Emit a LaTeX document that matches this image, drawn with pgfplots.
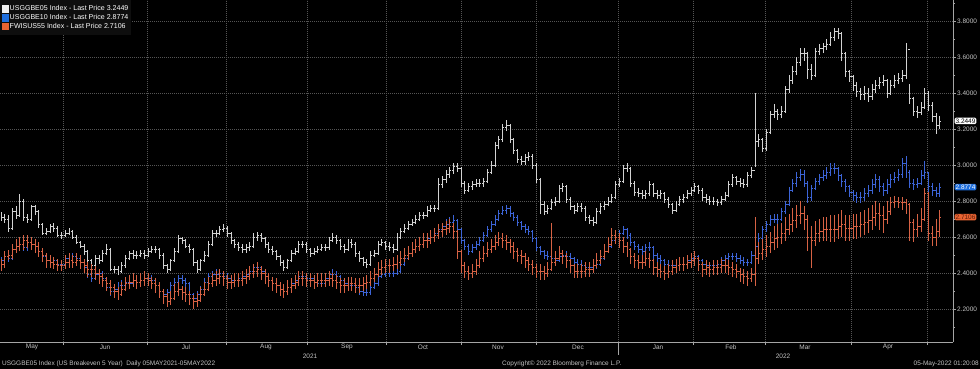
\documentclass[border=0pt]{standalone}
\usepackage{pgfplots}
\usepackage{pgfplotstable}
\pgfplotsset{compat=1.18}
\usepackage{fontspec}
\setmainfont{Liberation Sans}
\definecolor{wcol}{RGB}{210,210,210}
\definecolor{bcol}{RGB}{60,100,215}
\definecolor{ocol}{RGB}{215,98,68}
\definecolor{wsq}{RGB}{240,240,240}
\definecolor{bsq}{RGB}{30,110,220}
\definecolor{osq}{RGB}{232,100,50}
\definecolor{gridgray}{RGB}{85,85,85}
\definecolor{axisgray}{RGB}{165,165,165}
\definecolor{labgray}{RGB}{195,195,195}
\definecolor{legbg}{RGB}{14,14,14}
\pgfdeclareplotmark{rtick}{\pgfpathmoveto{\pgfpointorigin}\pgfpathlineto{\pgfpoint{1.6bp}{0pt}}\pgfusepathqstroke}
\pgfdeclareplotmark{ltick}{\pgfpathmoveto{\pgfpointorigin}\pgfpathlineto{\pgfpoint{-1.6bp}{0pt}}\pgfusepathqstroke}
\newcommand{\smfont}{\fontsize{6.5}{7.2}\selectfont}
\newcommand{\legfont}{\fontsize{7.1}{7.6}\selectfont}
\pgfplotstableread{
i wc wh wl bc bh bl oc oh ol
0 2.71 2.74 2.69 2.47 2.49 2.44 2.45 2.48 2.41
1 2.70 2.73 2.68 2.49 2.51 2.46 2.49 2.52 2.43
2 2.65 2.72 2.63 2.48 2.51 2.46 2.50 2.53 2.47
3 2.74 2.76 2.64 2.53 2.55 2.47 2.53 2.56 2.48
4 2.72 2.77 2.70 2.55 2.57 2.51 2.55 2.59 2.51
5 2.80 2.84 2.71 2.56 2.59 2.53 2.56 2.60 2.52
6 2.71 2.81 2.69 2.54 2.58 2.52 2.58 2.61 2.53
7 2.70 2.73 2.68 2.57 2.59 2.52 2.57 2.61 2.54
8 2.77 2.78 2.69 2.56 2.59 2.54 2.56 2.60 2.53
9 2.74 2.78 2.72 2.55 2.58 2.53 2.55 2.59 2.51
10 2.67 2.75 2.65 2.52 2.56 2.50 2.52 2.57 2.49
11 2.62 2.68 2.61 2.49 2.53 2.47 2.50 2.54 2.46
12 2.63 2.65 2.61 2.47 2.50 2.45 2.47 2.51 2.43
13 2.66 2.67 2.62 2.46 2.49 2.44 2.46 2.50 2.43
14 2.65 2.68 2.63 2.47 2.49 2.44 2.45 2.49 2.42
15 2.61 2.66 2.60 2.45 2.48 2.43 2.44 2.48 2.41
16 2.61 2.63 2.59 2.45 2.47 2.43 2.44 2.47 2.41
17 2.62 2.64 2.60 2.48 2.50 2.44 2.46 2.50 2.42
18 2.63 2.65 2.61 2.47 2.50 2.45 2.47 2.51 2.43
19 2.60 2.64 2.59 2.49 2.51 2.46 2.46 2.50 2.43
20 2.57 2.61 2.56 2.48 2.51 2.46 2.47 2.51 2.44
21 2.55 2.58 2.54 2.46 2.49 2.44 2.46 2.50 2.42
22 2.52 2.56 2.50 2.43 2.47 2.41 2.44 2.48 2.40
23 2.47 2.53 2.45 2.39 2.44 2.37 2.42 2.46 2.38
24 2.44 2.48 2.42 2.37 2.40 2.35 2.42 2.45 2.38
25 2.48 2.50 2.43 2.39 2.41 2.36 2.40 2.44 2.36
26 2.47 2.50 2.45 2.40 2.42 2.38 2.38 2.42 2.34
27 2.51 2.53 2.46 2.37 2.41 2.35 2.36 2.40 2.32
28 2.53 2.56 2.50 2.32 2.38 2.30 2.34 2.38 2.30
29 2.42 2.54 2.41 2.30 2.33 2.27 2.32 2.36 2.28
30 2.42 2.44 2.40 2.31 2.33 2.28 2.30 2.34 2.26
31 2.41 2.44 2.39 2.33 2.35 2.30 2.28 2.32 2.25
32 2.44 2.46 2.40 2.33 2.36 2.31 2.31 2.35 2.27
33 2.48 2.50 2.43 2.35 2.37 2.32 2.34 2.38 2.30
34 2.51 2.52 2.47 2.34 2.37 2.32 2.35 2.39 2.31
35 2.50 2.53 2.48 2.36 2.38 2.33 2.36 2.40 2.32
36 2.50 2.52 2.48 2.35 2.38 2.33 2.35 2.39 2.31
37 2.51 2.53 2.49 2.36 2.38 2.33 2.36 2.40 2.32
38 2.50 2.53 2.48 2.37 2.39 2.34 2.37 2.41 2.33
39 2.52 2.54 2.49 2.37 2.40 2.35 2.36 2.40 2.33
40 2.53 2.55 2.51 2.36 2.39 2.34 2.34 2.38 2.31
41 2.53 2.55 2.51 2.33 2.37 2.31 2.33 2.37 2.29
42 2.50 2.54 2.48 2.30 2.34 2.28 2.30 2.35 2.26
43 2.44 2.51 2.42 2.28 2.31 2.26 2.27 2.31 2.23
44 2.42 2.45 2.40 2.29 2.31 2.26 2.24 2.29 2.21
45 2.47 2.48 2.41 2.33 2.35 2.28 2.26 2.30 2.22
46 2.52 2.54 2.46 2.35 2.37 2.32 2.30 2.34 2.25
47 2.59 2.61 2.51 2.37 2.39 2.34 2.31 2.35 2.27
48 2.58 2.60 2.56 2.36 2.39 2.34 2.29 2.33 2.25
49 2.55 2.59 2.54 2.34 2.37 2.32 2.28 2.32 2.24
50 2.53 2.56 2.51 2.28 2.35 2.26 2.26 2.30 2.22
51 2.46 2.54 2.44 2.26 2.29 2.24 2.24 2.28 2.20
52 2.42 2.47 2.40 2.28 2.30 2.25 2.25 2.29 2.21
53 2.47 2.48 2.41 2.31 2.33 2.27 2.28 2.32 2.24
54 2.50 2.52 2.46 2.35 2.37 2.30 2.31 2.35 2.27
55 2.56 2.58 2.49 2.38 2.40 2.34 2.34 2.38 2.30
56 2.62 2.64 2.55 2.39 2.41 2.37 2.36 2.40 2.32
57 2.62 2.64 2.60 2.39 2.42 2.37 2.37 2.41 2.33
58 2.64 2.66 2.61 2.40 2.42 2.38 2.38 2.42 2.34
59 2.65 2.67 2.63 2.38 2.41 2.36 2.37 2.41 2.33
60 2.62 2.66 2.60 2.37 2.40 2.35 2.35 2.39 2.31
61 2.58 2.63 2.56 2.36 2.39 2.34 2.35 2.39 2.31
62 2.56 2.59 2.54 2.36 2.38 2.34 2.36 2.40 2.32
63 2.54 2.57 2.52 2.37 2.39 2.34 2.36 2.40 2.32
64 2.53 2.56 2.51 2.38 2.40 2.35 2.37 2.41 2.33
65 2.54 2.56 2.51 2.39 2.41 2.36 2.38 2.42 2.34
66 2.55 2.57 2.52 2.41 2.43 2.38 2.40 2.44 2.36
67 2.60 2.62 2.54 2.43 2.45 2.40 2.41 2.45 2.37
68 2.61 2.63 2.58 2.43 2.46 2.41 2.42 2.46 2.38
69 2.59 2.62 2.57 2.41 2.44 2.39 2.40 2.44 2.36
70 2.56 2.60 2.54 2.38 2.42 2.36 2.38 2.42 2.34
71 2.53 2.57 2.51 2.36 2.39 2.34 2.36 2.40 2.32
72 2.52 2.55 2.50 2.34 2.37 2.32 2.34 2.38 2.30
73 2.49 2.53 2.47 2.33 2.35 2.30 2.33 2.37 2.29
74 2.46 2.50 2.44 2.31 2.34 2.29 2.31 2.35 2.27
75 2.43 2.47 2.41 2.30 2.33 2.28 2.30 2.34 2.26
76 2.47 2.48 2.42 2.32 2.34 2.29 2.32 2.36 2.28
77 2.51 2.53 2.46 2.34 2.36 2.31 2.33 2.37 2.29
78 2.52 2.54 2.50 2.36 2.38 2.33 2.35 2.39 2.31
79 2.56 2.58 2.51 2.38 2.40 2.35 2.37 2.41 2.33
80 2.56 2.58 2.54 2.38 2.41 2.36 2.37 2.41 2.33
81 2.53 2.57 2.51 2.37 2.40 2.35 2.36 2.40 2.32
82 2.51 2.54 2.49 2.37 2.39 2.35 2.36 2.40 2.32
83 2.52 2.54 2.50 2.35 2.38 2.33 2.35 2.39 2.31
84 2.53 2.55 2.51 2.34 2.37 2.32 2.36 2.40 2.32
85 2.54 2.56 2.52 2.34 2.36 2.32 2.36 2.40 2.32
86 2.54 2.56 2.52 2.37 2.39 2.33 2.36 2.40 2.32
87 2.58 2.60 2.53 2.39 2.41 2.36 2.37 2.41 2.33
88 2.60 2.62 2.57 2.39 2.42 2.37 2.36 2.40 2.32
89 2.58 2.61 2.56 2.38 2.41 2.36 2.35 2.39 2.31
90 2.55 2.59 2.53 2.36 2.39 2.34 2.33 2.37 2.29
91 2.53 2.56 2.51 2.34 2.37 2.32 2.33 2.37 2.29
92 2.57 2.59 2.52 2.33 2.36 2.31 2.34 2.38 2.30
93 2.56 2.59 2.54 2.33 2.35 2.31 2.34 2.38 2.30
94 2.51 2.57 2.49 2.32 2.35 2.30 2.33 2.37 2.29
95 2.48 2.52 2.46 2.30 2.33 2.28 2.33 2.37 2.29
96 2.46 2.49 2.44 2.29 2.32 2.27 2.34 2.38 2.30
97 2.45 2.48 2.43 2.29 2.31 2.27 2.35 2.39 2.31
98 2.50 2.52 2.44 2.32 2.34 2.28 2.37 2.41 2.33
99 2.51 2.53 2.49 2.34 2.36 2.31 2.39 2.43 2.35
100 2.56 2.58 2.50 2.38 2.40 2.33 2.42 2.46 2.38
101 2.57 2.59 2.55 2.39 2.41 2.37 2.43 2.47 2.39
102 2.55 2.58 2.53 2.40 2.42 2.38 2.44 2.48 2.40
103 2.54 2.57 2.52 2.40 2.42 2.38 2.44 2.48 2.40
104 2.53 2.56 2.51 2.40 2.42 2.38 2.45 2.49 2.41
105 2.60 2.62 2.52 2.41 2.43 2.39 2.46 2.50 2.42
106 2.63 2.65 2.59 2.45 2.47 2.40 2.48 2.52 2.44
107 2.65 2.67 2.62 2.48 2.50 2.44 2.50 2.54 2.46
108 2.67 2.69 2.64 2.51 2.53 2.47 2.51 2.55 2.47
109 2.68 2.70 2.66 2.53 2.55 2.50 2.53 2.57 2.49
110 2.70 2.72 2.67 2.55 2.57 2.52 2.55 2.59 2.51
111 2.72 2.74 2.69 2.56 2.58 2.54 2.56 2.60 2.52
112 2.72 2.74 2.70 2.58 2.60 2.55 2.58 2.62 2.54
113 2.75 2.77 2.71 2.59 2.61 2.57 2.58 2.62 2.54
114 2.76 2.78 2.74 2.60 2.62 2.58 2.60 2.64 2.56
115 2.76 2.78 2.74 2.62 2.64 2.59 2.61 2.65 2.57
116 2.89 2.93 2.75 2.64 2.66 2.61 2.63 2.67 2.59
117 2.92 2.94 2.87 2.66 2.68 2.63 2.64 2.68 2.60
118 2.95 2.97 2.90 2.67 2.70 2.65 2.65 2.69 2.61
119 2.97 2.99 2.93 2.68 2.71 2.66 2.66 2.70 2.62
120 2.99 3.01 2.95 2.69 2.72 2.66 2.63 2.68 2.59
121 2.98 3.01 2.96 2.64 2.70 2.62 2.52 2.64 2.48
122 2.90 2.99 2.88 2.58 2.65 2.56 2.44 2.53 2.40
123 2.86 2.91 2.84 2.55 2.59 2.53 2.41 2.46 2.37
124 2.88 2.90 2.85 2.52 2.56 2.50 2.40 2.44 2.36
125 2.89 2.91 2.86 2.54 2.56 2.51 2.41 2.45 2.37
126 2.90 2.92 2.88 2.56 2.58 2.53 2.44 2.48 2.39
127 2.90 2.92 2.88 2.58 2.60 2.55 2.48 2.52 2.43
128 2.91 2.93 2.88 2.61 2.63 2.57 2.51 2.55 2.46
129 2.96 2.98 2.90 2.64 2.66 2.60 2.53 2.57 2.49
130 3.00 3.02 2.95 2.67 2.69 2.63 2.55 2.59 2.51
131 3.11 3.13 2.99 2.70 2.72 2.66 2.57 2.61 2.53
132 3.14 3.16 3.09 2.73 2.75 2.69 2.59 2.63 2.55
133 3.21 3.23 3.13 2.75 2.77 2.72 2.58 2.62 2.54
134 3.22 3.25 3.19 2.76 2.78 2.73 2.57 2.61 2.53
135 3.14 3.23 3.12 2.73 2.77 2.71 2.55 2.59 2.51
136 3.08 3.15 3.06 2.71 2.74 2.69 2.52 2.57 2.48
137 3.03 3.09 3.01 2.68 2.72 2.66 2.50 2.54 2.46
138 3.02 3.05 3.00 2.66 2.69 2.64 2.49 2.53 2.45
139 3.04 3.06 3.00 2.64 2.67 2.62 2.47 2.51 2.43
140 3.05 3.07 3.02 2.63 2.66 2.61 2.45 2.49 2.41
141 3.00 3.06 2.98 2.59 2.64 2.57 2.43 2.47 2.39
142 2.92 3.01 2.90 2.54 2.60 2.52 2.41 2.45 2.37
143 2.78 2.93 2.73 2.52 2.55 2.50 2.41 2.45 2.36
144 2.74 2.80 2.72 2.50 2.53 2.48 2.40 2.44 2.36
145 2.76 2.78 2.73 2.49 2.52 2.47 2.42 2.46 2.38
146 2.79 2.81 2.75 2.48 2.51 2.46 2.46 2.68 2.41
147 2.80 2.82 2.77 2.47 2.50 2.45 2.48 2.52 2.44
148 2.87 2.89 2.79 2.49 2.51 2.46 2.51 2.55 2.47
149 2.88 2.90 2.85 2.50 2.52 2.47 2.49 2.53 2.45
150 2.81 2.89 2.79 2.49 2.52 2.47 2.47 2.51 2.43
151 2.77 2.82 2.75 2.48 2.51 2.46 2.44 2.48 2.40
152 2.75 2.78 2.73 2.46 2.49 2.44 2.41 2.45 2.37
153 2.77 2.79 2.74 2.45 2.48 2.43 2.41 2.45 2.37
154 2.76 2.79 2.74 2.44 2.47 2.42 2.41 2.45 2.37
155 2.71 2.77 2.69 2.43 2.46 2.41 2.42 2.46 2.38
156 2.69 2.72 2.67 2.43 2.45 2.41 2.42 2.46 2.38
157 2.68 2.71 2.66 2.44 2.46 2.41 2.44 2.48 2.40
158 2.74 2.76 2.67 2.45 2.47 2.42 2.47 2.51 2.43
159 2.77 2.79 2.73 2.48 2.50 2.44 2.49 2.53 2.45
160 2.78 2.80 2.75 2.52 2.54 2.47 2.52 2.56 2.48
161 2.80 2.82 2.77 2.55 2.57 2.51 2.56 2.60 2.51
162 2.82 2.84 2.79 2.58 2.60 2.54 2.61 2.65 2.55
163 2.89 2.91 2.81 2.60 2.62 2.57 2.60 2.64 2.56
164 2.91 2.93 2.88 2.62 2.64 2.59 2.58 2.62 2.54
165 2.98 3.00 2.90 2.64 2.66 2.61 2.55 2.60 2.51
166 2.98 3.01 2.96 2.61 2.65 2.59 2.53 2.57 2.49
167 2.90 2.99 2.88 2.57 2.62 2.55 2.49 2.54 2.45
168 2.85 2.91 2.83 2.55 2.58 2.53 2.47 2.51 2.43
169 2.84 2.87 2.82 2.53 2.56 2.51 2.46 2.50 2.42
170 2.83 2.86 2.81 2.52 2.55 2.50 2.46 2.50 2.42
171 2.84 2.86 2.81 2.54 2.56 2.51 2.48 2.52 2.44
172 2.89 2.91 2.83 2.54 2.57 2.52 2.47 2.51 2.43
173 2.84 2.90 2.82 2.50 2.55 2.48 2.43 2.48 2.39
174 2.83 2.86 2.81 2.48 2.51 2.46 2.42 2.46 2.38
175 2.84 2.86 2.81 2.47 2.50 2.45 2.41 2.45 2.37
176 2.81 2.85 2.79 2.45 2.48 2.43 2.40 2.44 2.36
177 2.78 2.82 2.76 2.44 2.47 2.42 2.41 2.45 2.37
178 2.75 2.79 2.73 2.44 2.46 2.41 2.43 2.47 2.39
179 2.78 2.80 2.74 2.44 2.46 2.42 2.44 2.48 2.40
180 2.81 2.83 2.77 2.45 2.47 2.42 2.45 2.49 2.41
181 2.82 2.84 2.79 2.45 2.48 2.43 2.45 2.49 2.41
182 2.84 2.86 2.81 2.47 2.49 2.44 2.46 2.50 2.42
183 2.86 2.88 2.83 2.48 2.50 2.45 2.47 2.51 2.43
184 2.88 2.90 2.85 2.49 2.51 2.46 2.48 2.52 2.44
185 2.86 2.89 2.84 2.47 2.50 2.45 2.45 2.49 2.41
186 2.82 2.87 2.80 2.45 2.48 2.43 2.42 2.46 2.38
187 2.81 2.84 2.79 2.44 2.47 2.42 2.43 2.47 2.39
188 2.80 2.83 2.78 2.44 2.46 2.42 2.42 2.46 2.38
189 2.80 2.82 2.78 2.44 2.46 2.42 2.43 2.47 2.39
190 2.79 2.81 2.77 2.45 2.47 2.42 2.43 2.47 2.39
191 2.81 2.83 2.78 2.47 2.49 2.44 2.44 2.48 2.40
192 2.83 2.85 2.80 2.48 2.50 2.45 2.44 2.48 2.40
193 2.89 2.91 2.82 2.49 2.51 2.46 2.43 2.47 2.39
194 2.93 2.95 2.88 2.49 2.51 2.47 2.42 2.46 2.38
195 2.91 2.94 2.89 2.48 2.51 2.46 2.41 2.45 2.37
196 2.90 2.93 2.88 2.47 2.50 2.45 2.39 2.43 2.35
197 2.89 2.92 2.87 2.46 2.49 2.44 2.38 2.42 2.34
198 2.94 2.96 2.88 2.46 2.48 2.44 2.37 2.41 2.33
199 2.97 2.99 2.93 2.50 2.52 2.45 2.39 2.43 2.35
200 3.13 3.40 2.99 2.55 2.62 2.49 2.48 2.71 2.33
201 3.14 3.17 3.10 2.59 2.62 2.55 2.51 2.57 2.45
202 3.09 3.15 3.07 2.64 2.66 2.58 2.53 2.59 2.47
203 3.18 3.20 3.08 2.67 2.69 2.63 2.55 2.61 2.49
204 3.28 3.30 3.17 2.70 2.72 2.66 2.57 2.63 2.51
205 3.30 3.34 3.26 2.70 2.73 2.68 2.59 2.66 2.53
206 3.28 3.31 3.25 2.70 2.73 2.67 2.60 2.67 2.54
207 3.30 3.33 3.26 2.74 2.76 2.69 2.62 2.68 2.56
208 3.42 3.44 3.29 2.78 2.80 2.73 2.64 2.71 2.58
209 3.47 3.50 3.40 2.86 2.88 2.77 2.67 2.73 2.61
210 3.52 3.55 3.45 2.90 2.92 2.85 2.69 2.76 2.63
211 3.57 3.60 3.50 2.93 2.96 2.88 2.72 2.78 2.65
212 3.62 3.65 3.55 2.95 2.98 2.91 2.73 2.80 2.67
213 3.62 3.65 3.58 2.90 2.97 2.88 2.70 2.77 2.64
214 3.53 3.63 3.48 2.82 2.91 2.79 2.60 2.72 2.52
215 3.50 3.56 3.47 2.87 2.89 2.80 2.58 2.66 2.43
216 3.63 3.65 3.49 2.91 2.93 2.86 2.62 2.69 2.55
217 3.65 3.67 3.61 2.93 2.95 2.89 2.63 2.70 2.57
218 3.66 3.68 3.62 2.94 2.97 2.91 2.64 2.71 2.58
219 3.67 3.70 3.64 2.96 2.99 2.92 2.64 2.71 2.58
220 3.71 3.74 3.66 2.98 3.01 2.94 2.64 2.72 2.57
221 3.74 3.76 3.69 2.98 3.01 2.95 2.64 2.72 2.57
222 3.73 3.76 3.70 2.94 2.99 2.91 2.66 2.73 2.59
223 3.62 3.74 3.58 2.91 2.95 2.88 2.67 2.75 2.60
224 3.52 3.63 3.49 2.88 2.92 2.85 2.65 2.72 2.58
225 3.49 3.53 3.46 2.85 2.89 2.82 2.65 2.72 2.58
226 3.44 3.50 3.41 2.83 2.86 2.80 2.66 2.73 2.59
227 3.41 3.46 3.38 2.82 2.85 2.79 2.66 2.73 2.59
228 3.39 3.43 3.36 2.82 2.85 2.79 2.67 2.74 2.60
229 3.40 3.44 3.36 2.84 2.87 2.80 2.68 2.75 2.61
230 3.38 3.43 3.35 2.86 2.89 2.82 2.69 2.76 2.62
231 3.42 3.45 3.36 2.89 2.92 2.84 2.71 2.78 2.64
232 3.44 3.47 3.40 2.92 2.95 2.87 2.73 2.80 2.66
233 3.46 3.49 3.42 2.88 2.94 2.85 2.72 2.79 2.64
234 3.47 3.50 3.44 2.86 2.90 2.83 2.70 2.77 2.62
235 3.40 3.48 3.37 2.89 2.92 2.84 2.74 2.80 2.67
236 3.44 3.47 3.39 2.92 2.95 2.87 2.79 2.82 2.72
237 3.47 3.50 3.43 2.93 2.96 2.90 2.80 2.83 2.76
238 3.48 3.51 3.45 2.95 2.98 2.91 2.79 2.82 2.76
239 3.50 3.53 3.46 3.01 3.04 2.93 2.79 2.82 2.75
240 3.64 3.68 3.48 2.96 3.05 2.93 2.78 2.81 2.73
241 3.37 3.45 3.34 2.90 2.97 2.87 2.68 2.79 2.58
242 3.30 3.38 3.27 2.89 2.92 2.86 2.64 2.70 2.57
243 3.29 3.33 3.26 2.90 2.93 2.87 2.66 2.73 2.60
244 3.32 3.35 3.28 2.94 2.97 2.89 2.70 2.76 2.63
245 3.40 3.43 3.31 2.96 3.02 2.92 2.84 2.87 2.69
246 3.33 3.41 3.30 2.88 2.96 2.85 2.62 2.85 2.58
247 3.27 3.35 3.24 2.86 2.90 2.83 2.60 2.66 2.55
248 3.22 3.29 3.17 2.84 2.88 2.82 2.63 2.70 2.55
249 3.2449 3.27 3.20 2.8774 2.90 2.82 2.7106 2.75 2.60
}\data
\begin{document}
\begin{tikzpicture}
\useasboundingbox (0,0) rectangle (980bp,369bp);
\fill[black] (0,0) rectangle (980bp,369bp);
\begin{axis}[
  at={(0bp,27bp)}, anchor=south west,
  scale only axis, width=953bp, height=342bp,
  xmin=-0.27, xmax=252.5,
  ymin=2.0167, ymax=3.9167,
  clip mode=individual,
  axis x line*=bottom, axis y line*=right,
  axis line style={draw=axisgray, line width=0.6bp},
  xtick={16.45,38.7,59.7,81.2,102.1,122.0,141.9,163.7,183.6,202.7,225.5,245.6},
  xticklabels={},
  ytick={2.2,2.4,2.6,2.8,3.0,3.2,3.4,3.6,3.8},
  minor ytick={2.1,2.3,2.5,2.7,2.9,3.1,3.3,3.5,3.7,3.9},
  xmajorgrids, ymajorgrids,
  grid style={gridgray, line width=0.5bp, dash pattern=on 0.8bp off 1.2bp},
  tick style={axisgray, line width=0.5bp},
  major tick length=2.5bp, minor tick length=2bp,
  tick align=outside,
  yticklabel pos=right,
  yticklabel style={font=\smfont, text=labgray, inner sep=1.5bp,
    /pgf/number format/.cd, fixed, fixed zerofill, precision=4, assume math mode=true},
  legend style={at={(0,1)}, anchor=north west, draw=none, fill=legbg,
    text=white, font=\legfont, inner xsep=1.5bp, inner ysep=4.2bp, row sep=0.2bp,
    nodes={inner sep=1.0bp}},
  legend cell align=left,
]
\addlegendimage{legend image code/.code={\fill[wsq] (0bp,-3.3bp) rectangle (6.6bp,3.3bp);}}
\addlegendimage{legend image code/.code={\fill[bsq] (0bp,-3.3bp) rectangle (6.6bp,3.3bp);}}
\addlegendimage{legend image code/.code={\fill[osq] (0bp,-3.3bp) rectangle (6.6bp,3.3bp);}}
\legend{USGGBE05 Index - Last Price 3.2449, USGGBE10 Index - Last Price 2.8774, FWISUS55 Index - Last Price 2.7106}
% white series
\addplot[forget plot, only marks, mark=rtick, draw=wcol, color=wcol, mark options={draw=wcol, line width=0.7bp},
  error bars/.cd, y dir=both, y explicit, error mark=none,
  error bar style={draw=wcol, line width=0.75bp}]
  table[x=i, y=wc, y error plus expr=\thisrow{wh}-\thisrow{wc}, y error minus expr=\thisrow{wc}-\thisrow{wl}] {\data};
\addplot[forget plot, only marks, mark=ltick, color=wcol, mark options={draw=wcol, line width=0.7bp}, skip coords between index={249}{250}]
  table[x expr=\thisrow{i}+1, y=wc] {\data};
% blue series
\addplot[forget plot, only marks, mark=rtick, draw=bcol, color=bcol, mark options={draw=bcol, line width=0.7bp},
  error bars/.cd, y dir=both, y explicit, error mark=none,
  error bar style={draw=bcol, line width=0.75bp}]
  table[x=i, y=bc, y error plus expr=\thisrow{bh}-\thisrow{bc}, y error minus expr=\thisrow{bc}-\thisrow{bl}] {\data};
\addplot[forget plot, only marks, mark=ltick, color=bcol, mark options={draw=bcol, line width=0.7bp}, skip coords between index={249}{250}]
  table[x expr=\thisrow{i}+1, y=bc] {\data};
% orange series
\addplot[forget plot, only marks, mark=rtick, draw=ocol, color=ocol, mark options={draw=ocol, line width=0.7bp},
  error bars/.cd, y dir=both, y explicit, error mark=none,
  error bar style={draw=ocol, line width=0.75bp}]
  table[x=i, y=oc, y error plus expr=\thisrow{oh}-\thisrow{oc}, y error minus expr=\thisrow{oc}-\thisrow{ol}] {\data};
\addplot[forget plot, only marks, mark=ltick, color=ocol, mark options={draw=ocol, line width=0.7bp}, skip coords between index={249}{250}]
  table[x expr=\thisrow{i}+1, y=oc] {\data};
% last price tags
\node[anchor=west, xshift=1.5bp, fill=white, text=black, font=\smfont, inner sep=0.9bp, rounded corners=1.2bp] at (axis cs:252.5,3.2449) {3.2449};
\node[anchor=west, xshift=1.5bp, fill=bsq, text=white, font=\smfont, inner sep=0.9bp, rounded corners=1.2bp] at (axis cs:252.5,2.8774) {2.8774};
\node[anchor=west, xshift=1.5bp, fill=osq, text={rgb,255:red,90;green,25;blue,10}, font=\smfont, inner sep=0.9bp, rounded corners=1.2bp] at (axis cs:252.5,2.7106) {2.7106};
\end{axis}
% month labels
\foreach \x/\m in {32/May,105/Jun,186/Jul,266/Aug,347/Sep,423/Oct,498/Nov,578/Dec,658/Jan,731/Feb,805/Mar,888/Apr}
  \node[font=\smfont, text=labgray, inner sep=0pt] at (\x bp,22bp) {\m};
\node[font=\smfont, text=labgray, inner sep=0pt] at (310bp,13bp) {2021};
\node[font=\smfont, text=labgray, inner sep=0pt] at (783bp,13bp) {2022};
\draw[axisgray, line width=0.6bp] (618bp,27bp) -- (618bp,14bp);
% footer
\node[font=\smfont, text=labgray, anchor=west, inner sep=0pt] at (2bp,5bp) {USGGBE05 Index (US Breakeven 5 Year)\ \ Daily 05MAY2021-05MAY2022};
\node[font=\smfont, text=labgray, anchor=west, inner sep=0pt] at (502bp,5bp) {Copyright© 2022 Bloomberg Finance L.P.};
\node[font=\smfont, text=labgray, anchor=east, inner sep=0pt] at (979bp,5bp) {05-May-2022 01:20:08};
\end{tikzpicture}
\end{document}
